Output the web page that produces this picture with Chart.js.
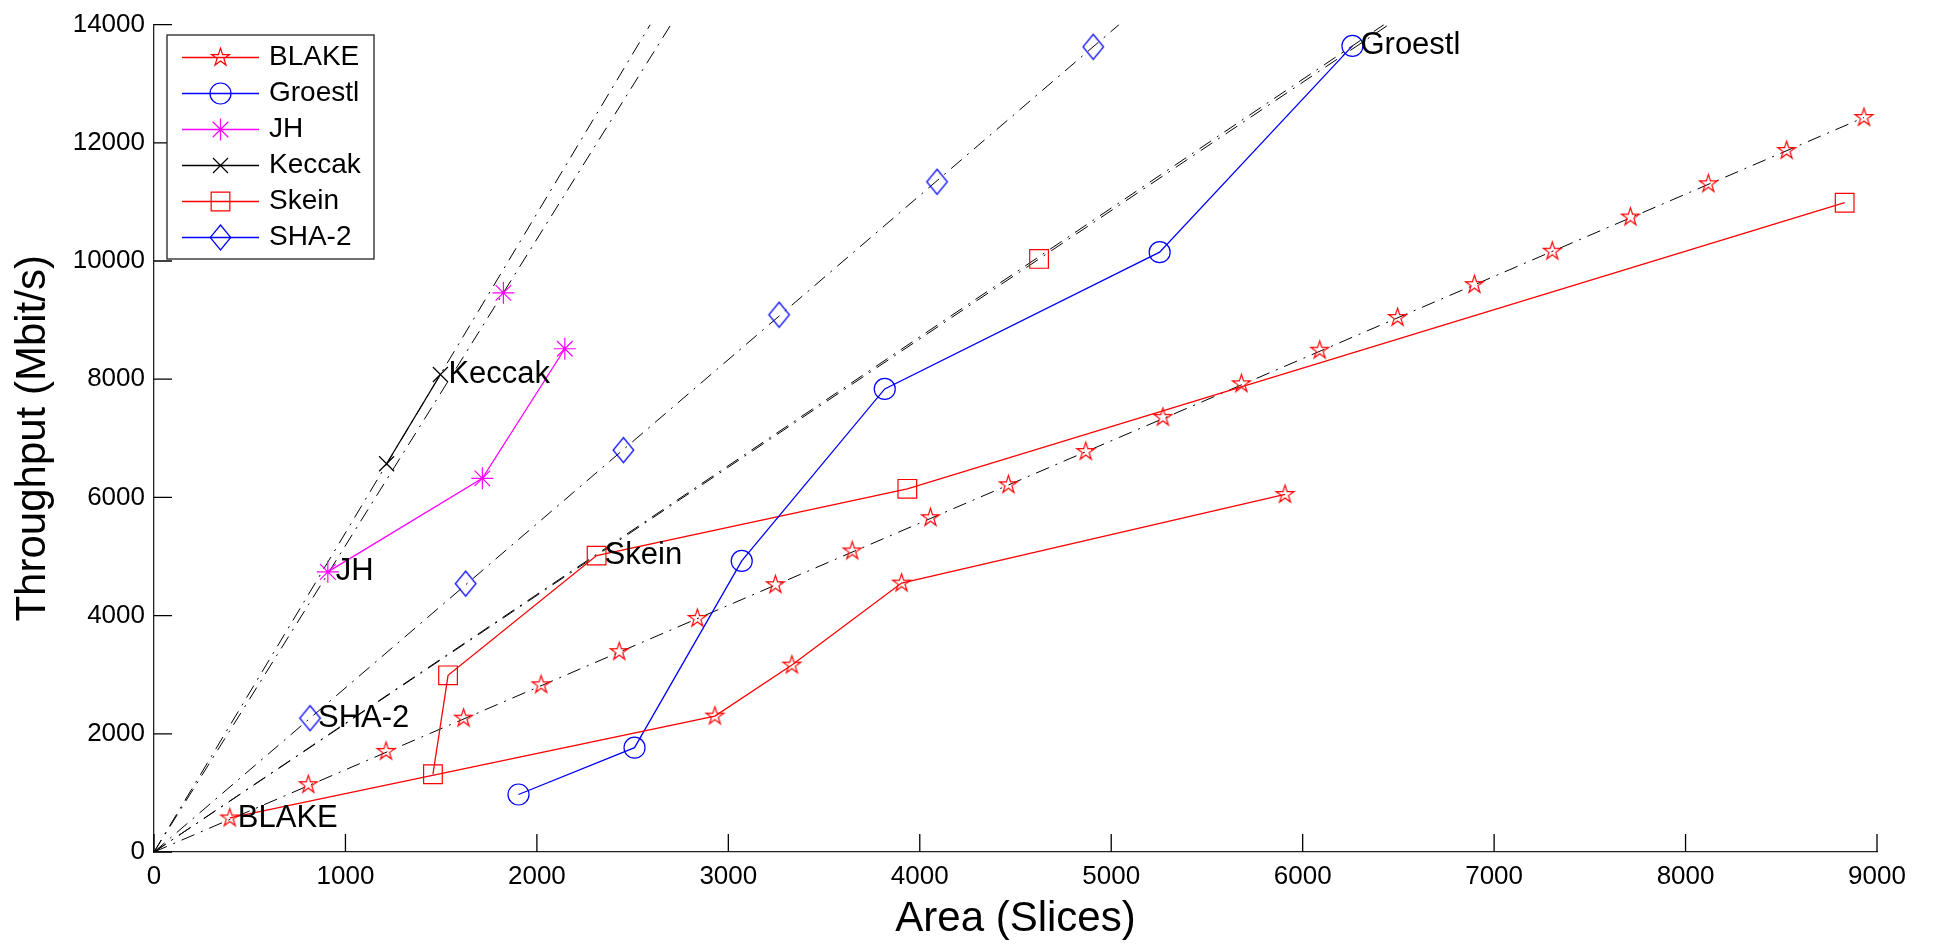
<!DOCTYPE html>
<html>
<head>
<meta charset="utf-8">
<title>Throughput vs Area</title>
<script src="https://cdn.jsdelivr.net/npm/chart.js@4.4.0/dist/chart.umd.min.js"></script>
<style>
  html, body { margin: 0; padding: 0; background: #fff; }
  #wrap { width: 1934px; height: 945px; }
</style>
</head>
<body>
<div id="wrap"><canvas id="perfChart" width="1934" height="945"></canvas></div>
<script>
// design points (Area in slices, Throughput in Mbit/s)
const blakeX = [396, 2930, 3332, 3905, 5908];
const blakeY = [576, 2300, 3163, 4550, 6050];
// parallel BLAKE cores, along the efficiency line
const blakeParX = [806, 1212, 1617, 2022, 2430, 2838, 3246, 3647, 4056, 4463, 4867, 5270, 5680, 6089, 6496, 6897, 7304, 7712, 8119, 8528, 8932];
const blakeParY = [1140, 1702, 2265, 2829, 3390, 3953, 4522, 5094, 5656, 6213, 6776, 7355, 7922, 8490, 9043, 9600, 10166, 10744, 11307, 11869, 12428];

const groestlX = [1904, 2510, 3070, 3817, 5253, 6260];
const groestlY = [973, 1766, 4925, 7835, 10150, 13640];

const jhX = [908, 1715, 2146];
const jhY = [4740, 6322, 8515];
const jhParX = [1825];
const jhParY = [9461];

const keccakX = [1215, 1496];
const keccakY = [6570, 8080];

const skeinX = [1457, 1536, 2312, 3935, 8831];
const skeinY = [1316, 2989, 5015, 6145, 10986];
const skeinParX = [4623];
const skeinParY = [10035];

const sha2X = [815, 1628, 2452, 3265, 4090, 4906];
const sha2Y = [2265, 4540, 6800, 9090, 11340, 13624];

// throughput/area lines from the origin (end points)
const effNames = ['Keccak', 'JH', 'SHA-2', 'Skein', 'Groestl', 'BLAKE'];
const effEndX = [2592, 2700, 5041, 6450, 6425, 8932];
const effEndY = [14000, 14000, 14000, 14000, 14000, 12428];

// text next to one point of each design
const noteText = ['BLAKE', 'Groestl', 'JH', 'Keccak', 'Skein', 'SHA-2'];
const noteX = [396, 6260, 908, 1496, 2312, 815];
const noteY = [576, 13640, 4740, 8080, 5015, 2265];

const xTicks = [0, 1000, 2000, 3000, 4000, 5000, 6000, 7000, 8000, 9000];
const yTicks = [0, 2000, 4000, 6000, 8000, 10000, 12000, 14000];

const FONT = '"Liberation Sans", Arial, Helvetica, sans-serif';
const RED = '#ff0000', BLUE = '#0000ff', MAGENTA = '#ff00ff', BLACK = '#000000';

function pts(xs, ys) {
    return xs.map((x, i) => ({x: x, y: ys[i]}));
}

// matlab-like pentagram marker
function pentagram(color, R) {
    const c = document.createElement('canvas');
    const n = Math.ceil(R * 2 + 4);
    c.width = n; c.height = n;
    const g = c.getContext('2d');
    const r = R * 0.382;
    g.beginPath();
    for (let i = 0; i < 10; i++) {
        const a = -Math.PI / 2 + i * Math.PI / 5;
        const rad = i % 2 ? r : R;
        const px = n / 2 + rad * Math.cos(a), py = n / 2 + rad * Math.sin(a);
        if (i === 0) g.moveTo(px, py); else g.lineTo(px, py);
    }
    g.closePath();
    g.strokeStyle = color;
    g.lineWidth = 1.2;
    g.stroke();
    return c;
}

// diamond marker, a bit taller than wide
function diamond(color, hw, hh) {
    const c = document.createElement('canvas');
    c.width = Math.ceil(hw * 2 + 4);
    c.height = Math.ceil(hh * 2 + 4);
    const g = c.getContext('2d');
    const cx = c.width / 2, cy = c.height / 2;
    g.beginPath();
    g.moveTo(cx, cy - hh);
    g.lineTo(cx + hw, cy);
    g.lineTo(cx, cy + hh);
    g.lineTo(cx - hw, cy);
    g.closePath();
    g.strokeStyle = color;
    g.lineWidth = 1.2;
    g.stroke();
    return c;
}

const starImg = pentagram(RED, 9.4);
const diamondImg = diamond(BLUE, 10.3, 12.5);

const markers = {
    BLAKE:   {style: starImg, radius: 9, color: RED},
    Groestl: {style: 'circle', radius: 10.5, color: BLUE},
    JH:      {style: 'star', radius: 11, color: MAGENTA},
    Keccak:  {style: 'crossRot', radius: 10.6, color: BLACK},
    Skein:   {style: 'rect', radius: 13.2, color: RED},
    'SHA-2': {style: diamondImg, radius: 12, color: BLUE}
};

function designSet(name, xs, ys, line) {
    const m = markers[name];
    return {
        label: name,
        data: pts(xs, ys),
        showLine: line,
        borderColor: m.color,
        borderWidth: 1.3,
        backgroundColor: 'transparent',
        pointStyle: m.style,
        pointRadius: m.radius,
        pointBorderColor: m.color,
        pointBorderWidth: 1.2,
        pointBackgroundColor: 'transparent'
    };
}

const datasets = [
    designSet('BLAKE', blakeX, blakeY, true),
    designSet('Groestl', groestlX, groestlY, true),
    designSet('JH', jhX, jhY, true),
    designSet('Keccak', keccakX, keccakY, true),
    designSet('Skein', skeinX, skeinY, true),
    designSet('SHA-2', sha2X, sha2Y, false),
    designSet('BLAKE', blakeParX, blakeParY, false),
    designSet('JH', jhParX, jhParY, false),
    designSet('Skein', skeinParX, skeinParY, false)
];

effNames.forEach((name, i) => {
    datasets.push({
        label: name + ' eff',
        data: [{x: 0, y: 0}, {x: effEndX[i], y: effEndY[i]}],
        showLine: true,
        borderColor: BLACK,
        borderWidth: 1,
        borderDash: [14, 7, 2, 7],
        pointRadius: 0,
        fill: false
    });
});

// legend entries in order
const legendNames = ['BLAKE', 'Groestl', 'JH', 'Keccak', 'Skein', 'SHA-2'];

function drawMarker(ctx, name, x, y) {
    const m = markers[name];
    ctx.save();
    ctx.strokeStyle = m.color;
    ctx.lineWidth = 1.2;
    ctx.beginPath();
    if (typeof m.style !== 'string') {
        ctx.drawImage(m.style, x - m.style.width / 2, y - m.style.height / 2);
    } else if (m.style === 'circle') {
        ctx.arc(x, y, m.radius, 0, Math.PI * 2);
    } else if (m.style === 'rect') {
        const s = m.radius * Math.SQRT1_2;
        ctx.rect(x - s, y - s, 2 * s, 2 * s);
    } else if (m.style === 'crossRot' || m.style === 'star') {
        const d = m.radius * Math.SQRT1_2;
        ctx.moveTo(x - d, y - d); ctx.lineTo(x + d, y + d);
        ctx.moveTo(x - d, y + d); ctx.lineTo(x + d, y - d);
        if (m.style === 'star') {
            ctx.moveTo(x, y - m.radius); ctx.lineTo(x, y + m.radius);
            ctx.moveTo(x - m.radius, y); ctx.lineTo(x + m.radius, y);
        }
    }
    ctx.stroke();
    ctx.restore();
}

const extrasPlugin = {
    id: 'extras',
    afterDatasetsDraw(chart) {
        const ctx = chart.ctx;
        const xs = chart.scales.x, ys = chart.scales.y;
        const area = chart.chartArea;

        // inward tick marks
        ctx.save();
        ctx.strokeStyle = BLACK;
        ctx.lineWidth = 1.3;
        ctx.beginPath();
        xTicks.forEach(v => {
            const px = xs.getPixelForValue(v);
            ctx.moveTo(px, area.bottom);
            ctx.lineTo(px, area.bottom - 18);
        });
        yTicks.forEach(v => {
            const py = ys.getPixelForValue(v);
            ctx.moveTo(area.left, py);
            ctx.lineTo(area.left + 18, py);
        });
        ctx.stroke();

        // design names next to their points
        ctx.fillStyle = BLACK;
        ctx.font = '31px ' + FONT;
        ctx.textAlign = 'left';
        ctx.textBaseline = 'middle';
        noteText.forEach((t, i) => {
            ctx.fillText(t, xs.getPixelForValue(noteX[i]) + 8, ys.getPixelForValue(noteY[i]));
        });

        // legend box
        const bx = 167, by = 35, bw = 207, bh = 224;
        ctx.fillStyle = '#fff';
        ctx.fillRect(bx, by, bw, bh);
        ctx.strokeStyle = '#222';
        ctx.lineWidth = 1.3;
        ctx.strokeRect(bx, by, bw, bh);
        ctx.font = '28px ' + FONT;
        ctx.fillStyle = BLACK;
        legendNames.forEach((name, i) => {
            const y = 57.5 + 36 * i;
            ctx.strokeStyle = markers[name].color;
            ctx.lineWidth = 1.3;
            ctx.beginPath();
            ctx.moveTo(182, y);
            ctx.lineTo(259, y);
            ctx.stroke();
            drawMarker(ctx, name, 220.5, y);
            ctx.fillText(name, 269, y);
        });
        ctx.restore();
    }
};

const perfConfig = {
    type: 'scatter',
    data: {datasets: datasets},
    options: {
        responsive: false,
        animation: false,
        layout: {
            padding: {left: 0, right: 57, top: 22, bottom: 0}
        },
        scales: {
            x: {
                type: 'linear',
                min: 0,
                max: 9000,
                afterBuildTicks: s => { s.ticks = xTicks.map(v => ({value: v})); },
                afterFit: s => { s.height = 93; },
                grid: {display: true, drawOnChartArea: false, drawTicks: false},
                border: {display: true, color: '#222', width: 1.3},
                ticks: {
                    color: BLACK,
                    font: {family: FONT, size: 26},
                    padding: 9,
                    maxRotation: 0,
                    autoSkip: false,
                    callback: v => String(v)
                },
                title: {
                    display: true,
                    text: 'Area (Slices)',
                    color: BLACK,
                    font: {family: FONT, size: 42},
                    padding: {top: 0, bottom: 0}
                }
            },
            y: {
                type: 'linear',
                min: 0,
                max: 14000,
                afterBuildTicks: s => { s.ticks = yTicks.map(v => ({value: v})); },
                afterFit: s => { s.width = 154; },
                grid: {display: true, drawOnChartArea: false, drawTicks: false},
                border: {display: true, color: '#222', width: 1.3},
                ticks: {
                    color: BLACK,
                    font: {family: FONT, size: 26},
                    padding: 9,
                    autoSkip: false,
                    callback: v => String(v)
                },
                title: {
                    display: true,
                    text: 'Throughput (Mbit/s)',
                    color: BLACK,
                    font: {family: FONT, size: 42},
                    padding: {top: 8, bottom: 0}
                }
            }
        },
        plugins: {
            legend: {display: false},
            tooltip: {enabled: false}
        }
    },
    plugins: [extrasPlugin]
};

const perfCanvas = document.getElementById('perfChart');
const perfChart = new Chart(perfCanvas, perfConfig);
</script>
</body>
</html>
